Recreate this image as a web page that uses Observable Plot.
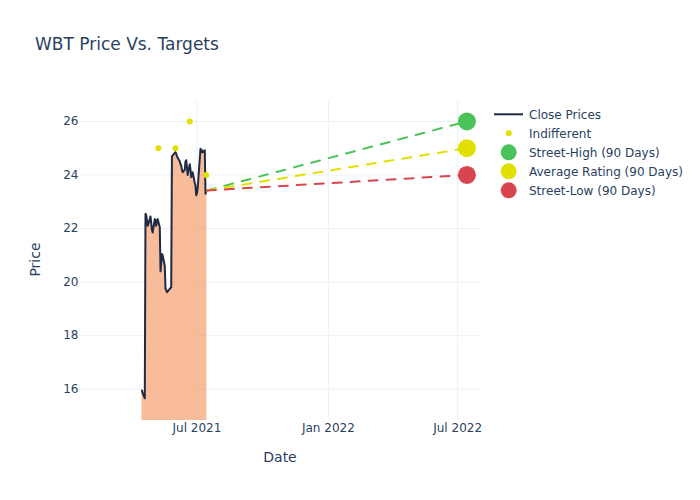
<!DOCTYPE html>
<html><head><meta charset="utf-8">
<script src="https://cdn.jsdelivr.net/npm/d3@7"></script>
<script src="https://cdn.jsdelivr.net/npm/@observablehq/plot@0.6"></script>
<style>body{margin:0;background:#fff;} #chart{width:700px;height:500px;}</style>
</head><body><div id="chart"></div>
<script>
const dates = ["2021-04-15","2021-04-16","2021-04-19","2021-04-20","2021-04-21","2021-04-22","2021-04-23",
"2021-04-26","2021-04-27","2021-04-28","2021-04-29","2021-04-30",
"2021-05-03","2021-05-04","2021-05-05","2021-05-06","2021-05-07",
"2021-05-10","2021-05-11","2021-05-12","2021-05-13","2021-05-14",
"2021-05-17","2021-05-18","2021-05-19","2021-05-20","2021-05-21",
"2021-05-24","2021-05-25","2021-05-26","2021-05-27","2021-05-28",
"2021-06-01","2021-06-02","2021-06-03","2021-06-04",
"2021-06-07","2021-06-08","2021-06-09","2021-06-10","2021-06-11",
"2021-06-14","2021-06-15","2021-06-16","2021-06-17","2021-06-18",
"2021-06-21","2021-06-22","2021-06-23","2021-06-24","2021-06-25",
"2021-06-28","2021-06-29","2021-06-30","2021-07-01","2021-07-02",
"2021-07-06","2021-07-07","2021-07-08","2021-07-09",
"2021-07-12","2021-07-13","2021-07-14","2021-07-15"];
const closes = [15.95,15.85,15.66,22.55,22.5,22.3,22.1,
22.35,22.45,22.2,21.95,21.85,
22.35,22.25,22.1,22.3,22.35,
22.05,20.4,20.7,21.05,21.0,
20.6,19.75,19.7,19.62,19.65,
19.75,19.78,19.8,24.7,24.72,
24.85,24.8,24.7,24.65,
24.5,24.4,24.35,24.2,24.1,
24.2,24.5,24.55,24.3,24.0,
24.4,24.2,23.92,24.0,24.1,
23.7,23.6,23.24,23.3,23.5,
24.98,24.85,24.92,24.85,
24.92,23.3,23.4,23.42];

const ratingDates = ["2021-05-08","2021-06-01","2021-06-21","2021-07-14"];
const ratingTargets = [25,25,26,24];

const targetDate = "2022-07-14";
const targetNames = ["Street-High (90 Days)","Average Rating (90 Days)","Street-Low (90 Days)"];
const targetValues = [26,25,24];
const targetColors = ["#4bc35a","#e1e000","#d8454f"];

const yTicks = [16,18,20,22,24,26];
const xTicks = ["2021-07-01","2022-01-01","2022-07-01"];

const parse = d3.utcParse("%Y-%m-%d");
const yMin = 14.83, yMax = 26.78;
const prices = dates.map((d,i)=>({date:parse(d), close:closes[i]}));
const last = prices[prices.length-1];
const ratings = ratingDates.map((d,i)=>({date:parse(d), value:ratingTargets[i]}));
const targets = targetNames.map((n,i)=>({name:n, date:parse(targetDate), value:targetValues[i], color:targetColors[i]}));
const segs = targets.flatMap(t=>[
  {name:t.name, date:last.date, value:last.close, color:t.color},
  {name:t.name, date:t.date, value:t.value, color:t.color}]);

const textColor = "#2a3f5f";
const grid = "#ebf0f8";

const plot = Plot.plot({
  width:700, height:500, marginLeft:80, marginRight:220, marginTop:100, marginBottom:80,
  style:{fontFamily:"DejaVu Sans", fontSize:"12px", color:textColor, background:"#fff", overflow:"visible"},
  x:{type:"utc", domain:[parse("2021-01-19"), parse("2022-08-02")], ticks:xTicks.map(parse),
     tickFormat:d3.utcFormat("%b %Y"), tickSize:0, tickPadding:3, label:null},
  y:{domain:[yMin,yMax], ticks:yTicks, tickSize:0, tickPadding:2, label:null},
  marks:[
    Plot.ruleY(yTicks,{stroke:grid, strokeWidth:1}),
    Plot.ruleX(xTicks.map(parse),{stroke:grid, strokeWidth:1}),
    Plot.areaY(prices,{x:"date", y1:yMin, y2:"close", fill:"rgb(247,160,112)", fillOpacity:0.7, curve:"linear"}),
    Plot.line(prices,{x:"date", y:"close", stroke:"#1f2a44", strokeWidth:2}),
    Plot.line(segs,{x:"date", y:"value", z:"name", stroke:"color", strokeWidth:2, strokeDasharray:"9,9"}),
    Plot.dot(ratings,{x:"date", y:"value", r:3, fill:"#e1e000", stroke:"none"}),
    Plot.dot(targets,{x:"date", y:"value", r:9, fill:"color", stroke:"none"})
  ]
});
document.getElementById("chart").appendChild(plot);

const svg = d3.select(plot);
svg.append("text").attr("x",35).attr("y",50).attr("font-size","17px").attr("fill",textColor)
  .attr("text-anchor","start").text("WBT Price Vs. Targets");
svg.append("text").attr("transform","translate(40,259.5) rotate(-90)").attr("text-anchor","middle")
  .attr("font-size","14px").attr("fill",textColor).text("Price");
svg.append("text").attr("x",280).attr("y",461.5).attr("text-anchor","middle")
  .attr("font-size","14px").attr("fill",textColor).text("Date");

const legendItems = [
  {label:"Close Prices", kind:"line", color:"#1f2a44"},
  {label:"Indifferent", kind:"small", color:"#e1e000"},
  ...targets.map(t=>({label:t.name, kind:"big", color:t.color}))
];
const lg = svg.append("g").attr("text-anchor","start");
legendItems.forEach((it,i)=>{
  const y = 114.3 + i*19;
  if (it.kind==="line") lg.append("line").attr("x1",494).attr("x2",523).attr("y1",y).attr("y2",y)
    .attr("stroke",it.color).attr("stroke-width",2);
  else lg.append("circle").attr("cx",508.7).attr("cy",y).attr("r",it.kind==="small"?3:8).attr("fill",it.color);
  lg.append("text").attr("x",529).attr("y",y).attr("dy","0.35em").attr("font-size","12px")
    .attr("text-anchor","start").attr("fill",textColor).text(it.label);
});
</script></body></html>
